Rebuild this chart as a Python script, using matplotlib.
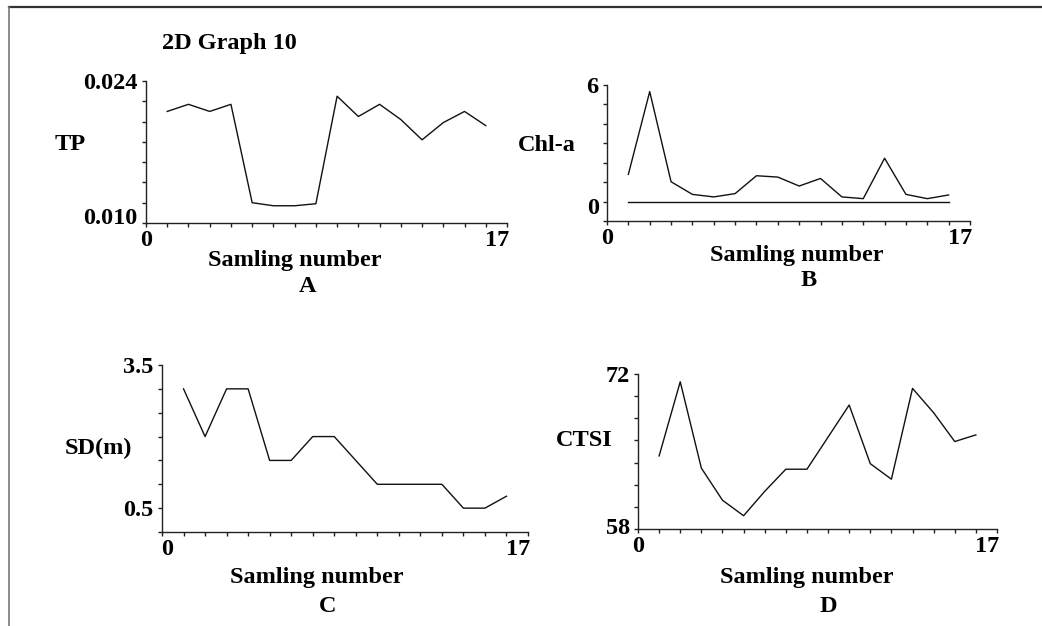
import matplotlib
matplotlib.use("Agg")
import matplotlib.pyplot as plt
from matplotlib.transforms import ScaledTranslation
import numpy as np

plt.rcParams['font.family'] = ['Liberation Serif', 'DejaVu Serif']
plt.rcParams['font.weight'] = 'bold'

W, H = 1042, 626

sample = list(range(1, 17))
tp = [0.0210, 0.0217, 0.0210, 0.0217, 0.0120, 0.0117, 0.0117, 0.0119,
      0.0225, 0.0205, 0.0217, 0.0202, 0.0182, 0.0199, 0.0210, 0.0196]
chla = [1.40, 5.66, 1.02, 0.37, 0.24, 0.41, 1.33, 1.26,
        0.80, 1.19, 0.24, 0.15, 2.23, 0.37, 0.15, 0.34]
chla_base = [0] * 16
sd = [3.0, 2.0, 3.0, 3.0, 1.5, 1.5, 2.0, 2.0,
      1.5, 1.0, 1.0, 1.0, 1.0, 0.5, 0.5, 0.75]
ctsi = [64.6, 71.3, 63.5, 60.6, 59.2, 61.4, 63.4, 63.4,
        66.3, 69.2, 63.9, 62.5, 70.7, 68.5, 65.9, 66.5]

fig = plt.figure(figsize=(W / 100, H / 100), dpi=100)

def rect(l, r, t, b):
    return [l / W, 1 - b / H, (r - l) / W, (b - t) / H]

def fx(x):
    return x / W

def fy(y):
    return 1 - y / H

FS = 17.5
LC = '#111111'

def shift(lab, dx_px, dy_px):
    lab.set_transform(lab.get_transform() +
                      ScaledTranslation(dx_px / 100, -dy_px / 100, fig.dpi_scale_trans))

def style(ax, ylo, yhi, ystep, ylabels, yshift=None, x0shift=0):
    ax.set_xlim(0, 17)
    ax.set_ylim(ylo, yhi)
    for s in ['top', 'right']:
        ax.spines[s].set_visible(False)
    for s in ['left', 'bottom']:
        ax.spines[s].set_linewidth(1.0)
        ax.spines[s].set_color('#222222')
    xt = np.arange(0, 18)
    ax.set_xticks(xt)
    ax.set_xticklabels(['0' if v == 0 else ('17' if v == 17 else '') for v in xt])
    yt = np.round(np.arange(ylo, yhi + ystep / 2, ystep), 6)
    ax.set_yticks(yt)
    ax.set_yticklabels([ylabels.get(round(v, 6), '') for v in yt])
    ax.tick_params(direction='out', length=3, width=1, colors='#222222',
                   labelsize=FS, labelcolor='black')
    ax.tick_params(axis='x', pad=2)
    ax.tick_params(axis='y', pad=3)
    for lab in ax.get_xticklabels() + ax.get_yticklabels():
        lab.set_fontweight('bold')
    xl = ax.get_xticklabels()
    shift(xl[-1], -10, 0)
    if x0shift:
        shift(xl[0], x0shift, 0)
    if yshift:
        yl = ax.get_yticklabels()
        for idx, dy in yshift.items():
            shift(yl[idx], 0, dy)

# Panel A
axA = fig.add_axes(rect(146, 507, 81, 223))
axA.plot(sample, tp, color=LC, lw=1.0)
style(axA, 0.010, 0.024, 0.002, {0.024: '0.024', 0.010: '0.010'}, yshift={0: -7})

# Panel B
axB = fig.add_axes(rect(607, 970, 85, 221))
axB.plot(sample, chla, color=LC, lw=1.0)
axB.plot(sample, chla_base, color=LC, lw=1.0)
style(axB, -1, 6, 1, {6: '6', 0: '0'}, yshift={1: 4})

# Panel C
axC = fig.add_axes(rect(162, 528, 365, 532))
axC.plot(sample, sd, color=LC, lw=1.0)
style(axC, 0, 3.5, 0.5, {3.5: '3.5', 0.5: '0.5'}, x0shift=5)

# Panel D
axD = fig.add_axes(rect(638, 997, 374, 529))
axD.plot(sample, ctsi, color=LC, lw=1.0)
style(axD, 58, 72, 2, {72: '72', 58: '58'}, yshift={0: -3})

def t(x, y, s, ha='center'):
    fig.text(fx(x), fy(y), s, ha=ha, va='center', fontsize=FS,
             fontweight='bold', color='black')

t(162, 43, '2D Graph 10', ha='left')
t(55, 144, 'TP', ha='left')
t(295, 260, 'Samling number')
t(308, 287, 'A')

t(518, 145, 'Chl-a', ha='left')
t(797, 255, 'Samling number')
t(809, 280, 'B')

t(65, 448, 'SD(m)', ha='left')
t(317, 577, 'Samling number')
t(328, 607, 'C')

t(556, 441, 'CTSI', ha='left')
t(807, 578, 'Samling number')
t(828, 607, 'D')

# frame lines (top and left)
fig.add_artist(plt.Line2D([9 / W, 1.0], [fy(7), fy(7)], transform=fig.transFigure,
                          color='#333333', lw=1.6))
fig.add_artist(plt.Line2D([9 / W, 9 / W], [fy(7), 0.0], transform=fig.transFigure,
                          color='#777777', lw=1.2))

fig.savefig('out.png', dpi=100)
